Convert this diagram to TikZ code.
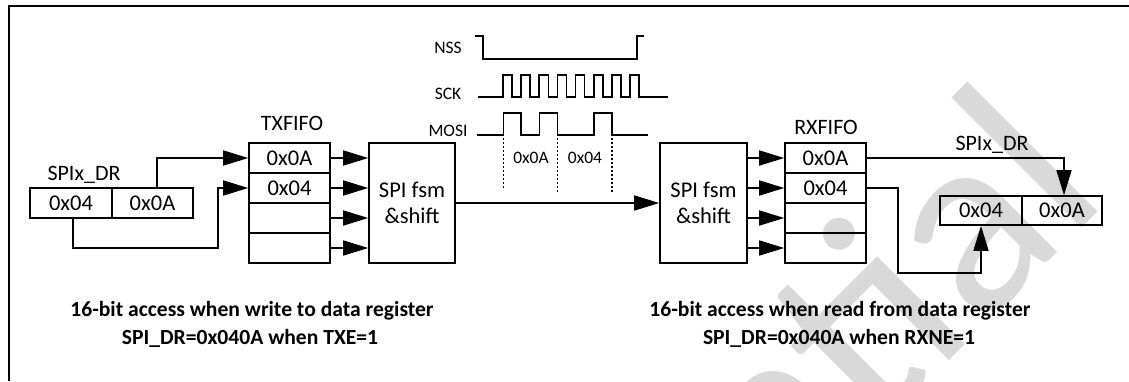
\documentclass[tikz,border=0pt]{standalone}
\usepackage{fontspec}
\setmainfont{Carlito}
\usetikzlibrary{arrows.meta}
\begin{document}
\begin{tikzpicture}[x=1pt,y=-1pt,
  ln/.style={line width=1.6pt},
  arr/.style={line width=1.6pt,-{Triangle[length=25pt,width=15pt]}},
  cell/.style={draw,line width=1.6pt,minimum height=30pt,inner sep=0pt,font=\fontsize{22.5}{26}\selectfont},
  fsm/.style={draw,line width=1.6pt,minimum height=120pt,inner sep=0pt,align=center,font=\fontsize{22.5}{26}\selectfont},
  lbl/.style={anchor=base,inner sep=0pt,font=\fontsize{22}{26}\selectfont},
  sig/.style={anchor=base,inner sep=0pt,font=\fontsize{17.5}{20}\selectfont},
  note/.style={anchor=base,inner sep=0pt,font=\fontsize{21.6}{25}\selectfont\bfseries},
  wave/.style={line width=1.6pt},
  dots/.style={line width=1.5pt,dash pattern=on 2pt off 2pt}
]
\useasboundingbox (0,0) rectangle (1129,381);
% watermark
\begin{scope}
\clip (0,0) rectangle (1129,381);
\node[text=black!15,rotate=45,anchor=base east,inner sep=0pt,font=\fontsize{265}{265}\selectfont] (wm) at (1112,198) {ntial};
\end{scope}
% frame
\draw[ln] (9,381) -- (9,6) -- (1129,6);

% left register
\node[cell,minimum width=82pt] (l1) at (71,203) {0x04};
\node[cell,minimum width=81pt] (l2) at (152.5,203) {0x0A};
\node[lbl] (lreg) at (84,180) {SPIx\_DR};

% TXFIFO
\node[cell,minimum width=81pt] (tx1) at (289.5,158) {0x0A};
\node[cell,minimum width=81pt] (tx2) at (289.5,188) {0x04};
\node[cell,minimum width=81pt] (tx3) at (289.5,218) {};
\node[cell,minimum width=81pt] (tx4) at (289.5,248) {};
\node[lbl] (txl) at (292,130.5) {TXFIFO};

% TX fsm
\node[fsm,minimum width=86pt] (txf) at (412,203) {SPI fsm\\\&shift};
% RX fsm
\node[fsm,minimum width=87pt] (rxf) at (703.5,203) {SPI fsm\\\&shift};

% RXFIFO
\node[cell,minimum width=81pt] (rx1) at (825.5,158) {0x0A};
\node[cell,minimum width=81pt] (rx2) at (825.5,188) {0x04};
\node[cell,minimum width=81pt] (rx3) at (825.5,218) {};
\node[cell,minimum width=81pt] (rx4) at (825.5,248) {};
\node[lbl] (rxl) at (826,134.5) {RXFIFO};

% right register
\node[cell,minimum width=82pt,minimum height=29pt] (r1) at (981,210.5) {0x04};
\node[cell,minimum width=80pt,minimum height=29pt] (r2) at (1062,210.5) {0x0A};
\node[lbl] (rreg) at (992,150) {SPIx\_DR};

% connectors left
\coordinate (c2) at (218,248);
\draw[arr] ([xshift=4.5pt]l2.north) |- (tx1.west);
\draw[arr] ([xshift=2pt]l1.south) |- (c2) |- (tx2.west);
\foreach \i in {1,2,3,4}{
  \draw[arr] (tx\i.east) -- (tx\i.east -| txf.west);
  \draw[arr] (rxf.east |- rx\i.west) -- (rx\i.west);
}
\draw[arr] (txf.east) -- (rxf.west);

% connectors right
\coordinate (c1) at (898,273);
\draw[arr] (rx1.east) -| ([xshift=2pt]r2.north);
\draw[arr] (rx2.east) -| (c1) -| (r1.south);

% timing
\node[sig] (nss) at (448,53) {NSS};
\node[sig] (sck) at (448,99) {SCK};
\node[sig] (mosi) at (448,136.7) {MOSI};
\draw[wave] (475,36) -- (483,36) -- (483,59) -- (637,59) -- (637,36) -- (644,36);
\draw[wave] (478,97) -- (503,97) \foreach \i in {0,...,7}{ -- ++(0,-22) -- ++(9.07,0) -- ++(0,22) -- ++(9.07,0)} -- (668,97);
\draw[wave] (477,135) -- (503.3,135) -- (503.3,112.7) -- (521.1,112.7) -- (521.1,135) -- (539.3,135) -- (539.3,112.7) -- (557.4,112.7) -- (557.4,135) -- (593.7,135) -- (593.7,112.7) -- (611.8,112.7) -- (611.8,135) -- (648,135);
\draw[dots] (503.3,138) -- (503.3,188);
\draw[dots] (557.4,138) -- (557.4,192);
\draw[dots] (611.8,138) -- (611.8,192);
\node[sig] (d1) at (531,163.3) {0x0A};
\node[sig] (d2) at (585,163.3) {0x04};

% notes
\node[note] (n1) at (252,316.7) {16-bit access when write to data register};
\node[note] (n2) at (250,344) {SPI\_DR=0x040A when TXE=1};
\node[note] (n3) at (840,316.7) {16-bit access when read from data register};
\node[note] (n4) at (839,344) {SPI\_DR=0x040A when RXNE=1};
\end{tikzpicture}
\end{document}
